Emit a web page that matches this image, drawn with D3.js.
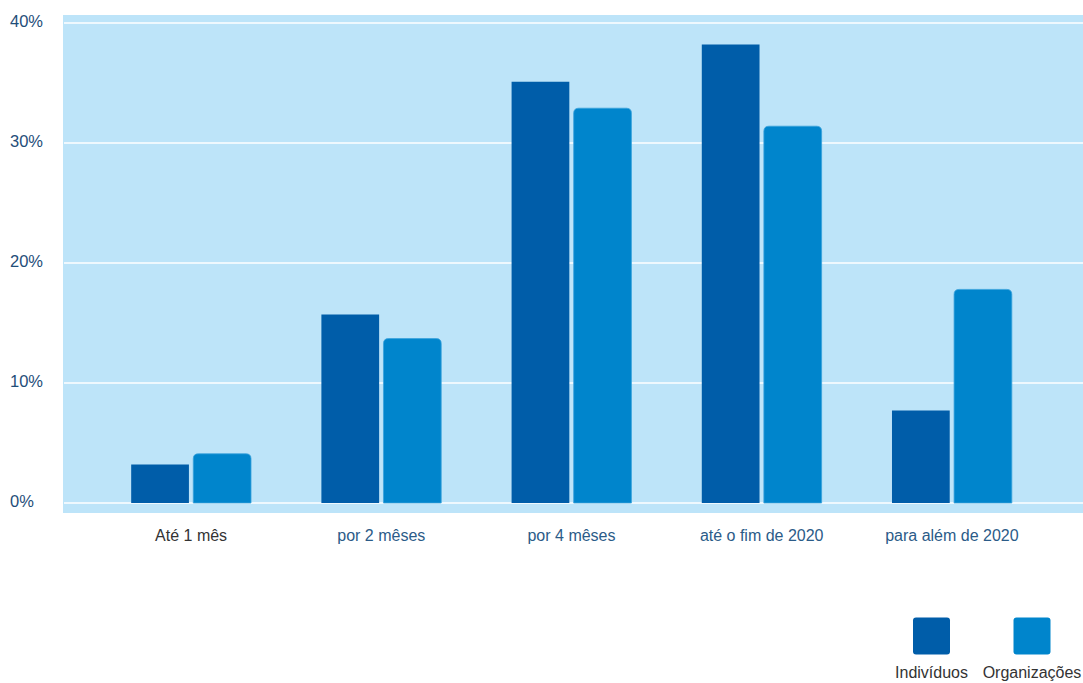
<!DOCTYPE html>
<html>
<head>
<meta charset="utf-8">
<script src="https://cdn.jsdelivr.net/npm/d3@7"></script>
<style>
  body { margin: 0; background: #fff; }
  svg { display: block; font-family: "Liberation Sans", Arial, sans-serif; }
</style>
</head>
<body>
<svg id="chart" width="1083" height="683"></svg>
<script>
// data
const categories = ["Até 1 mês", "por 2 mêses", "por 4 mêses", "até o fim de 2020", "para além de 2020"];
const series = ["Indivíduos", "Organizações"];
const individuos = [3.2, 15.7, 35.1, 38.2, 7.7];
const organizacoes = [4.1, 13.7, 32.9, 31.4, 17.8];
const yTicks = [0, 10, 20, 30, 40];

const colors = { "Indivíduos": "#005da9", "Organizações": "#0085cc" };

const rows = categories.map((c, i) => ({ cat: c, values: [
  { key: "Indivíduos", value: individuos[i] },
  { key: "Organizações", value: organizacoes[i] }
]}));

const svg = d3.select("#chart");

// plot area
const bg = { left: 63, right: 1083, top: 15, bottom: 513 };

let y = d3.scaleLinear().domain([0, 40]).range([503, 23]);

let x0 = d3.scaleBand()
  .domain(categories)
  .range([96, 1047])
  .paddingInner(0.37)
  .paddingOuter(0.185);

let x1 = d3.scaleBand()
  .domain(series)
  .range([0, x0.bandwidth()])
  .paddingInner(0.07);

svg.append("rect")
  .attr("x", bg.left).attr("y", bg.top)
  .attr("width", bg.right - bg.left).attr("height", bg.bottom - bg.top)
  .attr("fill", "#bde4f9");

// gridlines
svg.append("g").selectAll("line")
  .data(yTicks)
  .join("line")
  .attr("x1", bg.left + 1).attr("x2", bg.right)
  .attr("y1", d => y(d)).attr("y2", d => y(d))
  .attr("stroke", "#ffffff")
  .attr("stroke-width", 1.5);

// y tick labels
svg.append("g").selectAll("text")
  .data(yTicks)
  .join("text")
  .attr("x", 10)
  .attr("y", d => y(d) - 1.5)
  .attr("dy", "0.35em")
  .attr("fill", "#1f4e79")
  .attr("font-size", 16.5)
  .text(d => d + "%");

// rounded-top path for light bars
function topRounded(x, yTop, w, h, r) {
  r = Math.min(r, h, w / 2);
  return `M${x},${yTop + h}V${yTop + r}Q${x},${yTop} ${x + r},${yTop}H${x + w - r}Q${x + w},${yTop} ${x + w},${yTop + r}V${yTop + h}Z`;
}

let groups = svg.append("g").selectAll("g")
  .data(rows)
  .join("g")
  .attr("transform", d => `translate(${x0(d.cat)},0)`);

groups.selectAll("path")
  .data(d => d.values)
  .join("path")
  .attr("d", d => {
    const bx = x1(d.key), w = x1.bandwidth(), top = y(d.value), h = y(0) - y(d.value);
    if (d.key === "Organizações") return topRounded(bx, top, w, h, 5);
    return `M${bx},${top}h${w}v${h}h${-w}Z`;
  })
  .attr("fill", d => colors[d.key])
  .attr("stroke", d => d.key === "Organizações" ? "#3aa2dc" : "none")
  .attr("stroke-width", 0.8);

// category labels
svg.append("g").selectAll("text")
  .data(categories)
  .join("text")
  .attr("x", d => x0(d) + x0.bandwidth() / 2)
  .attr("y", 541)
  .attr("text-anchor", "middle")
  .attr("font-size", 16)
  .attr("fill", (d, i) => i === 0 ? "#333333" : "#2b5b88")
  .text(d => d);

// legend
const legendX = [931.5, 1032];
let legend = svg.append("g").selectAll("g")
  .data(series)
  .join("g")
  .attr("transform", (d, i) => `translate(${legendX[i]},0)`);

legend.append("rect")
  .attr("x", -18.5).attr("y", 617.5)
  .attr("width", 37).attr("height", 37)
  .attr("rx", 3)
  .attr("fill", d => colors[d]);

legend.append("text")
  .attr("y", 678)
  .attr("text-anchor", "middle")
  .attr("font-size", 16)
  .attr("fill", "#333333")
  .text(d => d);
</script>
</body>
</html>
